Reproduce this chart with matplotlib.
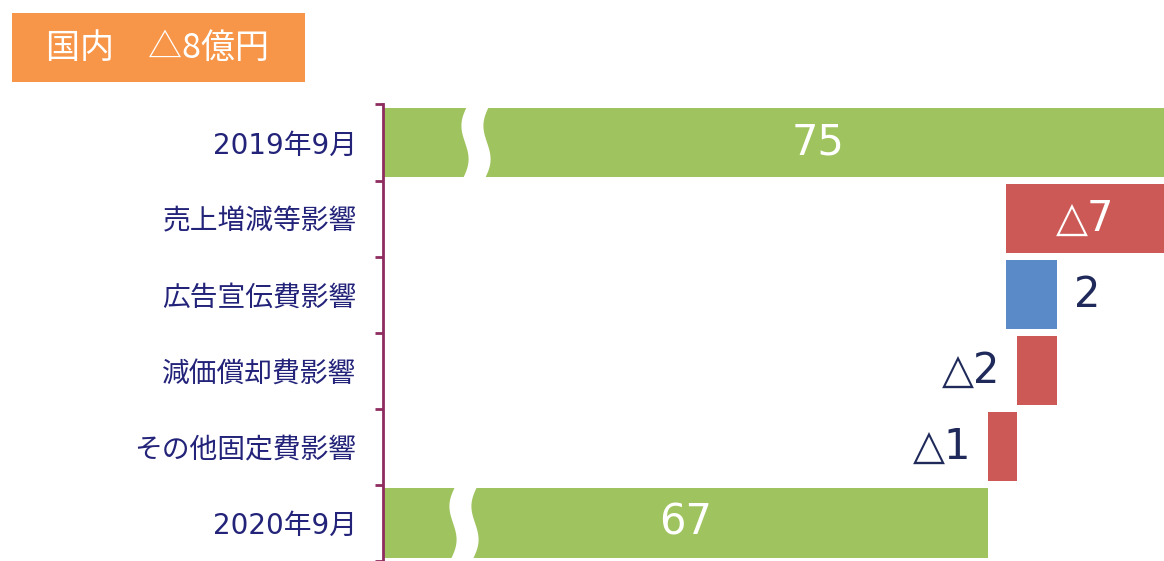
import numpy as np
import matplotlib.pyplot as plt
from matplotlib.patches import Rectangle, Polygon
import matplotlib.transforms as mtransforms

plt.rcParams['font.family'] = ['DejaVu Sans', 'Noto Sans CJK JP']

# data
categories = ['2019年9月', '売上増減等影響', '広告宣伝費影響', '減価償却費影響', 'その他固定費影響', '2020年9月']
start_value = 75.2
deltas = [-7.1, 2.3, -1.8, -1.3]
value_labels = ['75', '△7', '2', '△2', '△1', '67']
title_text = '国内\u3000△8億円'

GREEN = '#9fc35f'
RED = '#cc5955'
BLUE = '#5a8bc8'
ORANGE = '#f79548'
AXIS = '#8e2c5f'
NAVY = '#23237a'
DARK = '#1f2a5a'

W, H = 1164, 561
fig = plt.figure(figsize=(W / 100, H / 100), dpi=100)
ax_left = 383 / W
ax_top = 1 - 104.4 / H
ax = fig.add_axes([ax_left, 0, 1 - ax_left, ax_top])
ax_w_px = W - 383

x_lo, x_hi = 40.15, 75.2
n = len(categories)
bar_h = 0.91

# waterfall geometry
end_value = start_value + sum(deltas)
lefts, widths, colors = [0], [start_value], [GREEN]
run = start_value
for d in deltas:
    lefts.append(min(run, run + d))
    widths.append(abs(d))
    colors.append(BLUE if d > 0 else RED)
    run += d
lefts.append(0)
widths.append(end_value)
colors.append(GREEN)

ys = np.arange(n)
ax.barh(ys, widths, left=lefts, height=bar_h, color=colors, zorder=2)

ax.set_xlim(x_lo, x_hi)
ax.set_ylim(5.414, -0.5)


# white S-shaped break through the total bars
def draw_break(ax, y, center_px):
    trans = mtransforms.blended_transform_factory(ax.transAxes, ax.transData)
    t = np.linspace(0, 1, 40)
    off = -6 * t - 5 * np.sin(2 * np.pi * t)
    yy = y - 0.5 + t * 1.0
    half = 11
    xl = (center_px - 383 - half + off) / ax_w_px
    xr = (center_px - 383 + half + off) / ax_w_px
    pts = np.column_stack([np.concatenate([xl, xr[::-1]]),
                           np.concatenate([yy, yy[::-1]])])
    ax.add_patch(Polygon(pts, closed=True, facecolor='white', edgecolor='none',
                         transform=trans, zorder=3))


draw_break(ax, 0, 479)
draw_break(ax, n - 1, 467)

# value labels
label_dx = [32, 0, 0, 0, 0, 0]
for i, lab in enumerate(value_labels):
    l, w = lefts[i], widths[i]
    vis_l = max(l, x_lo)
    vis_r = min(l + w, x_hi)
    inside = i in (0, n - 1) or w > 4
    if inside:
        ax.annotate(lab, ((vis_l + vis_r) / 2, i), xytext=(label_dx[i], 0),
                    textcoords='offset points', ha='center', va='center',
                    color='white', fontsize=30, zorder=4)
    elif deltas[i - 1] > 0:
        ax.annotate(lab, (l + w, i), xytext=(12, 0), textcoords='offset points',
                    ha='left', va='center', color=DARK, fontsize=30, zorder=4)
    else:
        ax.annotate(lab, (l, i), xytext=(-12, 0), textcoords='offset points',
                    ha='right', va='center', color=DARK, fontsize=30, zorder=4)

# axis styling
for s in ('top', 'right', 'bottom'):
    ax.spines[s].set_visible(False)
ax.spines['left'].set_color(AXIS)
ax.spines['left'].set_linewidth(2)
ax.set_xticks([])
ax.set_yticks(np.arange(n + 1) - 0.5)
ax.set_yticklabels([])
ax.tick_params(axis='y', which='major', length=6, width=2, color=AXIS)
ax.set_yticks(ys, minor=True)
ax.set_yticklabels(categories, minor=True, fontsize=20, color=NAVY)
ax.tick_params(axis='y', which='minor', length=0, pad=19)

# title box
fig.patches.append(Rectangle((12 / W, 1 - 82 / H), 293 / W, 69 / H,
                             transform=fig.transFigure, facecolor=ORANGE,
                             edgecolor='none'))
fig.text(158 / W, 1 - 48 / H, title_text, ha='center', va='center',
         color='white', fontsize=24.5, family=['Noto Sans CJK JP'])

fig.savefig('out.png', dpi=100)
